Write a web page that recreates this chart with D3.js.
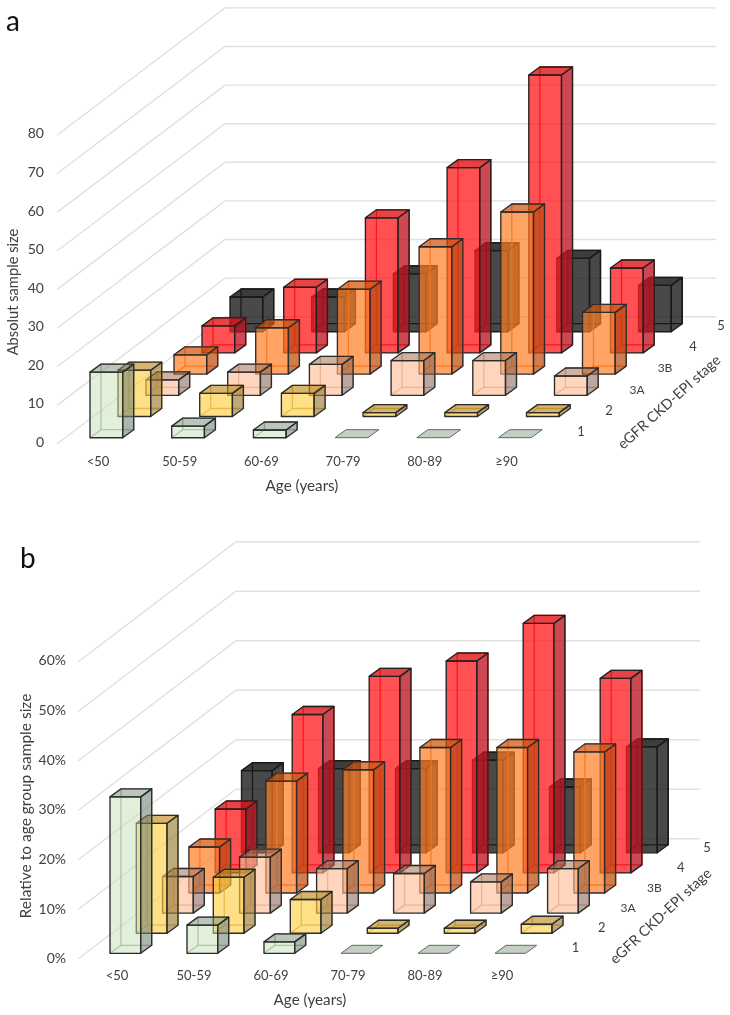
<!DOCTYPE html>
<html><head><meta charset="utf-8">
<script src="https://cdn.jsdelivr.net/npm/d3@7/dist/d3.min.js"></script>
<style>
html,body{margin:0;padding:0;background:#fff}
svg{display:block;filter:blur(0.35px)}
text{font-family:Lato,"Open Sans",sans-serif;fill:#404040}
</style></head><body>
<svg id="chart" width="730" height="1015"></svg>
<script>
const ages = ["<50","50-59","60-69","70-79","80-89","≥90"];
const stages = ["1","2","3A","3B","4","5"];

// Panel a: absolute sample size, one list per eGFR stage
const absStage1  = [17, 3, 2, 0, 0, 0];
const absStage2  = [12, 6, 6, 1, 1, 1];
const absStage3A = [4, 6, 8, 9, 9, 5];
const absStage3B = [5, 12, 22, 33, 42, 16];
const absStage4  = [7, 17, 35, 48, 72, 22];
const absStage5  = [9, 9, 15, 21, 19, 12];

// Panel b: percentage of the age group, one list per eGFR stage
const relStage1  = [31.6, 5.7, 2.3, 0, 0, 0];
const relStage2  = [22.2, 11.3, 6.8, 1, 1, 1.8];
const relStage3A = [7.4, 11.3, 9, 8, 6.3, 9];
const relStage3B = [9.3, 22.6, 24.9, 29.4, 29.4, 28.5];
const relStage4  = [12.9, 32, 39.7, 42.8, 50.4, 39.3];
const relStage5  = [16.6, 17, 17, 18.7, 13.3, 21.4];

const absTicks = [0,10,20,30,40,50,60,70,80];
const relTicks = [0,10,20,30,40,50,60];

const styles = [
  {front:"rgba(196,224,184,.50)", side:"rgba(110,130,118,.58)", top:"rgba(120,142,120,.50)", back:"rgba(90,115,90,.6)", edge:"#2c2c2c"},
  {front:"rgba(255,205,60,.62)",  side:"rgba(150,120,40,.62)",  top:"rgba(190,140,30,.64)",  back:"rgba(170,125,30,.7)", edge:"#2c2c2c"},
  {front:"rgba(255,188,148,.62)", side:"rgba(130,95,80,.55)",   top:"rgba(170,115,85,.55)",  back:"rgba(190,130,95,.7)", edge:"#2c2c2c"},
  {front:"rgba(255,125,35,.70)",  side:"rgba(190,75,15,.72)",   top:"rgba(210,85,10,.72)",   back:"rgba(230,95,20,.85)", edge:"#2c2c2c"},
  {front:"rgba(255,25,30,.76)",   side:"rgba(190,20,35,.78)",   top:"rgba(225,20,25,.8)",    back:"rgba(240,0,0,.95)",   edge:"#222"},
  {front:"rgba(22,22,22,.78)",    side:"rgba(20,20,20,.78)",    top:"rgba(18,18,18,.82)",    back:"rgba(0,0,0,.85)",     edge:"#1a1a1a"}
];

const svg = d3.select("#chart");

function panel(cfg, series) {
  const g = svg.append("g");
  const ageX = d3.scaleLinear().domain([0,5]).range(cfg.ageRange);
  const stageX = d3.scaleLinear().domain([0,5]).range([0,cfg.stageDx]);
  const stageY = d3.scaleLinear().domain([0,5]).range([cfg.base,cfg.base-cfg.stageDy]);
  const val = d3.scaleLinear().domain([0,d3.max(cfg.ticks)]).range([0,cfg.gridH]);
  const labelY = d3.scaleLinear().domain([0,d3.max(cfg.ticks)]).range([cfg.labelY0,cfg.labelY0-cfg.labelH]);

  // floor/wall gridlines
  const gridG = g.append("g");
  cfg.ticks.forEach(t=>{
    const y = cfg.wallY0 - val(t);
    const yf = cfg.frontY0 - val(t);
    gridG.append("path")
      .attr("d",d3.line()([[cfg.frontX,yf],[cfg.wallX,y],[cfg.wallEnd,y]]))
      .attr("fill","none").attr("stroke","#e0e0e0").attr("stroke-width",1.4);
  });

  // bars back to front
  const w = cfg.barW, dx = cfg.depthX, dy = cfg.depthY;
  d3.range(5,-1,-1).forEach(s=>{
    const st = styles[s];
    series[s].forEach((v,i)=>{
      const x = ageX(i)+stageX(s), b = stageY(s), h = val(v);
      const bar = g.append("g");
      const poly = (pts,fill,stroke,sw)=>bar.append("path")
        .attr("d",d3.line()(pts)+"Z").attr("fill",fill)
        .attr("stroke",stroke).attr("stroke-width",sw).attr("stroke-linejoin","round");
      if (v===0) {
        poly([[x,b],[x+w,b],[x+w+dx,b-dy],[x+dx,b-dy]],"#c3cfc2","#5f6b60",1);
        return;
      }
      // inner (hidden) edges
      poly([[x+dx,b-dy],[x+w+dx,b-dy],[x+w+dx,b-dy-h],[x+dx,b-dy-h]],"none",st.back,1.3);
      bar.append("path").attr("d",d3.line()([[x,b],[x+dx,b-dy]])).attr("stroke",st.back).attr("stroke-width",1.3).attr("fill","none");
      // visible faces
      poly([[x,b],[x+w,b],[x+w,b-h],[x,b-h]],st.front,st.edge,1.35);
      poly([[x+w,b],[x+w+dx,b-dy],[x+w+dx,b-dy-h],[x+w,b-h]],st.side,st.edge,1.35);
      poly([[x,b-h],[x+w,b-h],[x+w+dx,b-dy-h],[x+dx,b-dy-h]],st.top,st.edge,1.35);
    });
  });

  // y axis labels
  const axisG = g.append("g").attr("transform",`translate(${cfg.yAxisX},0)`)
    .call(d3.axisLeft(labelY).tickValues(cfg.ticks).tickSize(0).tickPadding(0).tickFormat(cfg.fmt));
  axisG.select(".domain").remove();
  axisG.selectAll("text").style("font-family",'Lato,"Open Sans",sans-serif').style("font-size","14px").style("fill","#404040");

  // age labels
  g.selectAll(null).data(ages).join("text")
    .attr("x",(d,i)=>ageX(i)+cfg.ageLabelDx).attr("y",cfg.ageLabelY)
    .attr("text-anchor","middle").attr("dominant-baseline","middle")
    .attr("font-size",13).text(d=>d);
  g.append("text").attr("x",cfg.ageTitle[0]).attr("y",cfg.ageTitle[1])
    .attr("text-anchor","middle").attr("dominant-baseline","middle").attr("font-size",15.2).text("Age (years)");

  // stage labels
  g.selectAll(null).data(stages).join("text")
    .attr("x",(d,i)=>cfg.stageLabel[0]+stageX(i)).attr("y",(d,i)=>cfg.stageLabel[1]+stageY(i)-cfg.base)
    .attr("text-anchor","middle").attr("dominant-baseline","middle")
    .attr("font-size",d=>d.length>1?12:13).text(d=>d);
  g.append("text").attr("transform",`translate(${cfg.stageTitle[0]},${cfg.stageTitle[1]}) rotate(${cfg.stageTitle[2]})`)
    .attr("text-anchor","middle").attr("dominant-baseline","middle").attr("font-size",14.4).text("eGFR CKD-EPI stage");

  g.append("text").attr("transform",`translate(${cfg.yTitle[0]},${cfg.yTitle[1]}) rotate(-90)`)
    .attr("text-anchor","middle").attr("dominant-baseline","middle").attr("font-size",cfg.yTitle[2]).text(cfg.yLabel);

  g.append("text").attr("x",cfg.letter[0]).attr("y",cfg.letter[1])
    .attr("font-size",28).style("fill","#111").text(cfg.name);
}

panel({
  name:"a", letter:[6,31], yLabel:"Absolut sample size", fmt:d=>d,
  ticks:absTicks, ageRange:[90,498.5], base:437.7, stageDx:140, stageDy:106,
  barW:32.7, depthX:11, depthY:8, gridH:308.8,
  frontX:57, frontY0:444, wallX:225, wallY0:316.7, wallEnd:716,
  yAxisX:44, labelY0:442, labelH:308.5,
  ageLabelDx:8, ageLabelY:463, ageTitle:[302,487],
  stageLabel:[581,433], stageTitle:[670,403,-42], yTitle:[14,292,14.7]
},[absStage1,absStage2,absStage3A,absStage3B,absStage4,absStage5]);

panel({
  name:"b", letter:[20,568], yLabel:"Relative to age group sample size", fmt:d=>d+"%",
  ticks:relTicks, ageRange:[110,495], base:953.3, stageDx:131.5, stageDy:100.5,
  barW:30.7, depthX:11, depthY:8, gridH:297,
  frontX:78, frontY0:959, wallX:236, wallY0:838.7, wallEnd:700,
  yAxisX:66, labelY0:958.5, labelH:298,
  ageLabelDx:7, ageLabelY:977, ageTitle:[310,1001],
  stageLabel:[575.5,949], stageTitle:[661.5,917,-43], yTitle:[27,806,15.5]
},[relStage1,relStage2,relStage3A,relStage3B,relStage4,relStage5]);
</script>
</body></html>
